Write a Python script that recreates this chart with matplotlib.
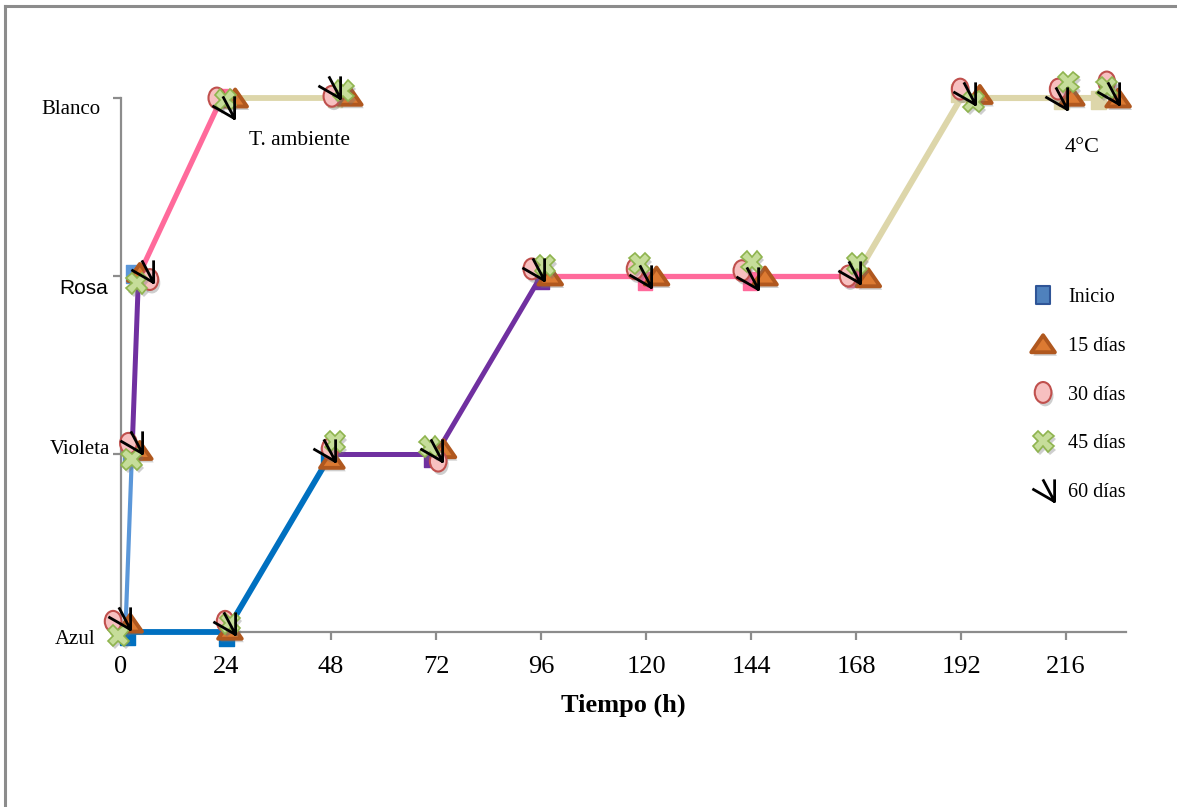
import matplotlib
matplotlib.use("Agg")
import matplotlib.pyplot as plt
import matplotlib.patheffects as pe
from matplotlib.path import Path
from matplotlib.lines import Line2D
from matplotlib.transforms import Affine2D

# Colour stages of the indicator (vertical axis) and time ticks
stages = ["Azul", "Violeta", "Rosa", "Blanco"]
hour_ticks = [0, 24, 48, 72, 96, 120, 144, 168, 192, 216]

# Colour-change trajectory at room temperature (hours, stage index)
amb_hours = [1, 2.5, 4, 23, 48]
amb_stage = [0, 1, 2, 3, 3]

# Colour-change trajectory at 4 °C
cold_hours = [1, 24, 48, 72, 96, 120, 144, 168, 192, 216, 223]
cold_stage = [0, 0, 1, 1, 2, 2, 2, 2, 3, 3, 3]

# Observations for each storage time (hours, stage position)
inicio_h = [1.5, 2.0, 2.8, 23.5, 48.9, 24.1, 47.4, 71.0, 96.2, 119.8, 143.8, 167.5, 191.4, 215.0, 223.4]
inicio_s = [-0.02, 1.0, 2.01, 3.0, 3.0, -0.03, 0.99, 0.98, 1.98, 1.97, 1.97, 1.99, 3.03, 2.99, 2.99]

d15_h = [2.1, 4.3, 4.3, 26.1, 52.3, 24.9, 48.2, 73.7, 98.1, 122.4, 147.2, 170.8, 196.3, 217.3, 227.9]
d15_s = [0.05, 1.02, 2.02, 3.0, 3.01, 0.01, 0.97, 1.03, 2.0, 2.0, 2.0, 1.99, 3.02, 3.01, 3.0]

d30_h = [-1.8, 1.7, 6.6, 21.9, 48.2, 23.8, 47.8, 72.5, 93.9, 117.5, 141.9, 166.2, 191.8, 214.2, 225.3]
d30_s = [0.06, 1.06, 1.98, 3.0, 3.01, 0.06, 1.03, 0.96, 2.04, 2.04, 2.03, 2.0, 3.05, 3.05, 3.09]

d45_h = [-0.6, 2.4, 3.6, 23.8, 50.8, 24.9, 48.9, 70.6, 96.9, 118.6, 144.2, 168.2, 194.8, 216.5, 225.3]
d45_s = [-0.02, 0.97, 1.96, 2.99, 3.04, 0.05, 1.07, 1.04, 2.06, 2.07, 2.08, 2.07, 2.98, 3.09, 3.06]

d60_h = [-0.5, 2.3, 4.9, 23.4, 47.5, 23.6, 46.5, 70.8, 94.1, 118.6, 143.0, 166.4, 192.7, 213.7, 225.5]
d60_s = [0.08, 1.07, 2.03, 2.95, 3.06, 0.05, 1.02, 1.02, 2.04, 2.0, 1.99, 2.02, 3.03, 3.0, 3.03]

series_labels = ["Inicio", "15 días", "30 días", "45 días", "60 días"]

# ---- styling ----
BLUE, LIGHT_BLUE = "#0070c0", "#5b97d9"
PURPLE, PINK, TAN = "#7030a0", "#ff6a9b", "#ddd6aa"
amb_seg_colors = [LIGHT_BLUE, PURPLE, PINK, TAN]
cold_seg_colors = [BLUE, BLUE, PURPLE, PURPLE, PINK, PINK, PINK, TAN, TAN, TAN]
amb_seg_widths = [3.0, 3.6, 3.8, 4.2]
cold_seg_widths = [4.2, 4.2, 3.6, 3.6, 3.8, 3.8, 3.8, 4.4, 4.4, 4.4]
# the start markers take the colour of the line they sit on
inicio_colors = [BLUE, LIGHT_BLUE, LIGHT_BLUE, PINK, TAN, BLUE, BLUE, PURPLE, PURPLE,
                 PINK, PINK, PINK, TAN, TAN, TAN]

SERIF = "Liberation Serif"
SANS = "Liberation Sans"
AXIS_GREY = "#8c8c8c"

square_mk = Path([(-0.8, -1), (0.8, -1), (0.8, 1), (-0.8, 1), (-0.8, -1)], closed=True)
ellipse_mk = Affine2D().scale(0.8, 1.0).transform_path(Path.unit_circle())
tri_mk = Path([(0, 0.72), (-1, -0.72), (1, -0.72), (0, 0.72)], closed=True)
arrow_mk = Path([(1, 1), (1, -1), (-0.06, 1), (-1, 0.15), (1, -1)],
                [Path.MOVETO, Path.LINETO, Path.LINETO, Path.MOVETO, Path.LINETO])

shadow = [pe.SimplePatchShadow(offset=(1.5, -2.5), shadow_rgbFace="0.45", alpha=0.35),
          pe.Normal()]

marker_styles = [
    dict(marker=square_mk, ms=13, mfc="#4f81bd", mec="#2f5597", mew=1.5),
    dict(marker=tri_mk, ms=17, mfc="#dc7a32", mec="#b0581f", mew=2.8, path_effects=shadow),
    dict(marker=ellipse_mk, ms=15, mfc="#f7c0c0", mec="#c0504d", mew=1.5, path_effects=shadow),
    dict(marker="X", ms=15, mfc="#c6dd9a", mec="#8fb44f", mew=1.2, path_effects=shadow),
    dict(marker=arrow_mk, ms=16, mfc="none", mec="black", mew=2.0),
]

# label offsets (pixels) of the stage names from their ticks
stage_label_offsets = [(-26, -8), (-11, 5), (-13, -13), (-21, -12)]
stage_label_fonts = [SERIF, SERIF, SANS, SERIF]

W, H = 1177, 807
fig = plt.figure(figsize=(W / 100, H / 100), dpi=100)
ax = fig.add_axes([121 / W, 1 - 632 / H, 1005 / W, 534 / H])
ax.set_xlim(0, 229.7)
ax.set_ylim(0, 3)

# connecting lines, one segment at a time
for hours, stage, colors, widths in [(amb_hours, amb_stage, amb_seg_colors, amb_seg_widths),
                                     (cold_hours, cold_stage, cold_seg_colors, cold_seg_widths)]:
    for i in range(len(hours) - 1):
        ax.plot(hours[i:i + 2], stage[i:i + 2], color=colors[i], lw=widths[i],
                solid_capstyle="round", zorder=2.6, clip_on=False)

# start markers, coloured like the line segment beneath them
ax.scatter(inicio_h, inicio_s, marker=square_mk, s=13 ** 2, c=inicio_colors,
           edgecolors=inicio_colors, linewidths=1.0, zorder=3, clip_on=False)
inicio_handle = Line2D([], [], ls="none", label=series_labels[0], **marker_styles[0])

# observation markers for the later storage times
series_data = [(d15_h, d15_s), (d30_h, d30_s), (d45_h, d45_s), (d60_h, d60_s)]
handles = [inicio_handle]
for k, ((hx, sy), label, st) in enumerate(zip(series_data, series_labels[1:], marker_styles[1:])):
    ln, = ax.plot(hx, sy, ls="none", label=label, zorder=4 + k, clip_on=False, **st)
    handles.append(ln)

# axes styling
for side in ("top", "right"):
    ax.spines[side].set_visible(False)
for side in ("left", "bottom"):
    ax.spines[side].set_color(AXIS_GREY)
    ax.spines[side].set_linewidth(1.6)
ax.set_xticks(hour_ticks)
ax.set_xticklabels([str(h) for h in hour_ticks], fontfamily=SERIF, fontsize=19)
ax.tick_params(axis="x", direction="out", length=6, width=1.6, color=AXIS_GREY, pad=11)
ax.set_yticks(range(len(stages)))
ax.set_yticklabels([])
ax.tick_params(axis="y", direction="out", length=6, width=1.6, color=AXIS_GREY)

for i, (name, (dx, dy), fam) in enumerate(zip(stages, stage_label_offsets, stage_label_fonts)):
    ax.annotate(name, xy=(0, i), xycoords=ax.get_yaxis_transform(),
                xytext=(dx, dy), textcoords="offset pixels",
                ha="right", va="center", fontfamily=fam, fontsize=15, annotation_clip=False)

ax.set_xlabel("Tiempo (h)", fontfamily=SERIF, fontsize=19, fontweight="bold")
ax.xaxis.set_label_coords(0.5, -0.137)
ax.xaxis.label.set_va("center")

ax.text(40.9, 2.764, "T. ambiente", fontfamily=SERIF, fontsize=15.5, ha="center", va="center")
ax.text(219.7, 2.72, "4°C", fontfamily=SERIF, fontsize=16, ha="center", va="center")

fig.legend(handles=handles, loc="upper left",
           bbox_to_anchor=(1031 / W, 1 - 288 / H), frameon=False,
           borderpad=0, borderaxespad=0, handlelength=1.2, handletextpad=0.65,
           labelspacing=1.47, numpoints=1,
           prop={"family": SERIF, "size": 14.5})

# outer frame (top and left edges)
fig.add_artist(Line2D([5 / W, 5 / W], [0, 1 - 6 / H], transform=fig.transFigure,
                      color=AXIS_GREY, lw=2.2))
fig.add_artist(Line2D([5 / W, 1], [1 - 6 / H, 1 - 6 / H], transform=fig.transFigure,
                      color=AXIS_GREY, lw=2.2))

fig.savefig("out.png", dpi=100)
